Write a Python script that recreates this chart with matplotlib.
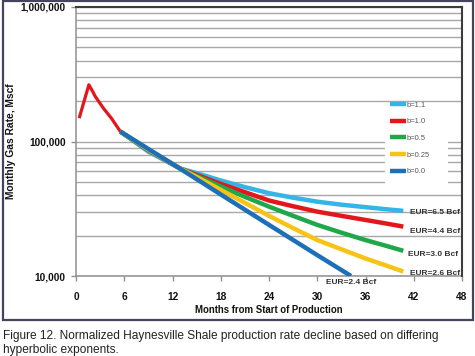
import matplotlib
matplotlib.use("Agg")
import matplotlib.pyplot as plt
from matplotlib.patches import Rectangle
from matplotlib.ticker import FixedLocator, FuncFormatter, NullFormatter

plt.rcParams["font.family"] = ["Liberation Sans", "DejaVu Sans"]

# early production (peak then decline), red
ramp_months = [0.45, 1.6, 2.0, 2.4, 3.4, 4.4, 5.5]
ramp_rate = [153000, 264000, 240000, 216000, 177000, 149000, 119000]

# decline forecasts by hyperbolic exponent
months = [5.5, 9, 13, 15, 18, 21, 24, 27, 30, 33, 36, 38.5, 40.7]
rate_b11 = [118700, 84000, 62800, 58200, 51300, 45800, 41300, 38200, 35700, 33900, 32500, 31400, 30500]
rate_b10 = [118700, 86000, 62800, 56500, 48400, 42000, 36400, 33000, 30100, 28000, 26100, 24600, 23300]
rate_b05 = [118700, 86500, 62800, 55500, 46300, 38800, 32800, 28000, 24000, 21000, 18500, 16800, 15400]
rate_b025 = [118700, 87000, 62800, 54500, 43700, 35000, 28000, 22700, 18500, 15800, 13500, 12000, 10800]
months_b0 = [5.5, 13, 18, 24, 30, 34.2]
rate_b0 = [118700, 62500, 40400, 24000, 14300, 10000]

labels = ["b=1.1", "b=1.0", "b=0.5", "b=0.25", "b=0.0"]
eur_labels = ["EUR=6.5 Bcf", "EUR=4.4 Bcf", "EUR=3.0 Bcf", "EUR=2.6 Bcf", "EUR=2.4 Bcf"]
colors = ["#35b4e6", "#e3161c", "#1ea84a", "#f7c415", "#1d6fb8"]

fig = plt.figure(figsize=(4.75, 3.56), dpi=100)
ax = fig.add_axes([76 / 475, 1 - 276 / 356, 386 / 475, 269 / 356])

ax.set_yscale("log")
ax.set_xlim(0, 48)
ax.set_ylim(1e4, 1e6)

ax.plot(ramp_months, ramp_rate, color=colors[1], lw=2.3, zorder=3)

series = [
    (months, rate_b11),
    (months, rate_b10),
    (months, rate_b05),
    (months, rate_b025),
    (months_b0, rate_b0),
]
offsets = [(4.5, -1.5), (4.5, -3.5), (3.5, -2.5), (4.5, -1.7), (0, -5)]
for (x, y), lab, eur, c, off in zip(series, labels, eur_labels, colors, offsets):
    ax.plot(x, y, color=c, lw=3.2, label=lab, solid_capstyle="butt", zorder=4)
    ha = "center" if off[0] == 0 else "left"
    ax.annotate(eur, (x[-1], y[-1]), xytext=off, textcoords="offset points",
                ha=ha, va="center", fontsize=6, fontweight="bold",
                color="#333333", annotation_clip=False, zorder=5)

# grid
ax.yaxis.set_major_locator(FixedLocator([1e4, 1e5, 1e6]))
minor = [m * 10 ** e for e in (4, 5) for m in range(2, 10)]
ax.yaxis.set_minor_locator(FixedLocator(minor))
ax.yaxis.set_minor_formatter(NullFormatter())
ax.yaxis.set_major_formatter(FuncFormatter(lambda v, p: f"{v:,.0f}"))
ax.grid(True, axis="y", which="both", color="#a8a8a8", lw=1.0, zorder=1)
ax.set_axisbelow(True)
ax.set_xticks(range(0, 49, 6))

ax.tick_params(axis="both", which="major", length=3.5, width=1, color="#909090",
               labelsize=7.3, labelcolor="#111111")
ax.tick_params(axis="y", which="minor", length=0)
ax.tick_params(axis="x", pad=8)
ax.tick_params(axis="y", pad=4)
for lbl in ax.get_xticklabels() + ax.get_yticklabels():
    lbl.set_fontweight("bold")

for side in ("left", "bottom"):
    ax.spines[side].set_color("#909090")
    ax.spines[side].set_linewidth(1.1)
for side in ("top", "right"):
    ax.spines[side].set_color("#3c3c3c")
    ax.spines[side].set_linewidth(1.5)
    ax.spines[side].set_zorder(6)

ax.set_xlabel("Months from Start of Production", fontsize=6.9, fontweight="bold",
              color="#111111", labelpad=2)
ax.set_ylabel("Monthly Gas Rate, Mscf", fontsize=7.4, fontweight="bold",
              color="#111111", labelpad=3.5)

# white block behind legend hides grid lines
ax.add_patch(Rectangle((0.80, 0.305), 0.164, 0.338, transform=ax.transAxes,
                       facecolor="white", edgecolor="none", zorder=2))
leg = ax.legend(loc="upper left", bbox_to_anchor=(0.805, 0.66), frameon=False,
                fontsize=5.4, handlelength=2.2, handletextpad=0.05,
                labelspacing=1.25, borderaxespad=0)
for t in leg.get_texts():
    t.set_color("#555555")
for h in leg.get_lines():
    h.set_linewidth(3.2)

# outer frame around the chart
fig.patches.append(Rectangle((2.5 / 475, 1 - 319.5 / 356), 470.5 / 475, 319 / 356,
                             transform=fig.transFigure, fill=False,
                             edgecolor="#44445f", lw=1.6))

fig.text(3 / 475, 1 - 330.5 / 356,
         "Figure 12. Normalized Haynesville Shale production rate decline based on differing\n"
         "hyperbolic exponents.",
         ha="left", va="top", fontsize=8.6, color="#222222", linespacing=1.12)

fig.savefig("out.png", dpi=100)
